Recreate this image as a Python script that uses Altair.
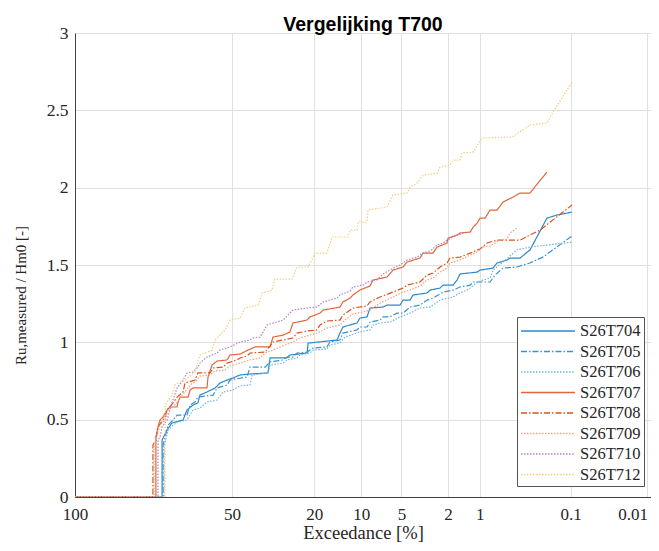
import numpy as np
import pandas as pd
import altair as alt

# Exceedance [%] and normalised run-up values
T704_p = [100, 80.8, 80.8, 78.8, 76.8, 72, 70.3, 67.6, 65.4, 64.5, 61.3, 57.6, 55.4, 52.2, 49.6, 46.5, 42.3, 35.1, 34.3, 28.3, 27.3, 22, 21.7, 14.5, 13.9, 13.3, 10.7, 10.2, 9.1, 8.66, 6.95, 6.48, 5.13, 4.86, 4.26, 4.03, 3.07, 2.89, 2.36, 2.22, 1.8, 1.65, 1.55, 1.06, 0.994, 0.736, 0.669, 0.526, 0.489, 0.382, 0.297, 0.191, 0.146, 0.0964]
T704_y = [0, 0, 0.368, 0.433, 0.478, 0.498, 0.562, 0.595, 0.608, 0.659, 0.679, 0.705, 0.737, 0.756, 0.769, 0.789, 0.795, 0.802, 0.899, 0.899, 0.918, 0.931, 0.995, 1.015, 1.060, 1.099, 1.125, 1.157, 1.164, 1.222, 1.228, 1.241, 1.241, 1.273, 1.273, 1.306, 1.319, 1.338, 1.351, 1.370, 1.370, 1.403, 1.442, 1.454, 1.467, 1.480, 1.513, 1.532, 1.545, 1.545, 1.597, 1.803, 1.823, 1.842]

T705_p = [100, 80.4, 80.4, 78.4, 76.3, 74.6, 70.3, 68.9, 66.7, 65.4, 58.5, 56.7, 52.2, 50.9, 43.5, 42.3, 36.2, 34.3, 29.6, 28.3, 26.3, 25, 22, 20.3, 16.8, 16.1, 13.9, 13.3, 10.7, 10.2, 9.1, 8.66, 7.31, 6.95, 6.14, 5.42, 4.86, 4.26, 3.52, 3.07, 2.72, 2.22, 1.8, 1.55, 1.24, 1.16, 0.789, 0.702, 0.58, 0.412, 0.297, 0.212, 0.0964]
T705_y = [0, 0, 0.336, 0.465, 0.498, 0.530, 0.530, 0.595, 0.614, 0.646, 0.659, 0.705, 0.724, 0.756, 0.776, 0.840, 0.840, 0.873, 0.886, 0.905, 0.905, 0.931, 0.937, 0.963, 0.970, 1.002, 1.015, 1.060, 1.080, 1.099, 1.099, 1.131, 1.144, 1.164, 1.164, 1.189, 1.189, 1.228, 1.241, 1.273, 1.286, 1.325, 1.338, 1.358, 1.370, 1.390, 1.390, 1.435, 1.480, 1.487, 1.513, 1.551, 1.687]

T706_p = [100, 80, 80, 78.4, 74.6, 70.3, 67.6, 64.5, 61.3, 56.7, 54, 49.6, 46.5, 42.3, 41.4, 35.1, 34.3, 29.6, 28.3, 25, 24.1, 21.2, 20.3, 16.8, 16.1, 13.9, 12.9, 10.7, 10.2, 8.66, 8.24, 7.31, 6.14, 5.13, 4.26, 3.52, 2.89, 2.36, 1.8, 1.55, 1.33, 1.24, 1.06, 0.789, 0.736, 0.58, 0.412, 0.297, 0.0964]
T706_y = [0, 0, 0.323, 0.433, 0.485, 0.498, 0.562, 0.575, 0.614, 0.627, 0.679, 0.692, 0.718, 0.724, 0.789, 0.802, 0.853, 0.866, 0.886, 0.899, 0.918, 0.931, 0.950, 0.957, 0.983, 0.996, 1.034, 1.060, 1.067, 1.080, 1.112, 1.125, 1.131, 1.164, 1.189, 1.222, 1.228, 1.273, 1.293, 1.319, 1.338, 1.351, 1.390, 1.416, 1.467, 1.519, 1.597, 1.616, 1.648]

T707_p = [100, 83.2, 83.2, 82.4, 81.6, 80.4, 78.8, 77.6, 74.6, 74.2, 73.3, 69.8, 68.9, 67.6, 61.3, 60.8, 59, 56.7, 52.2, 50.9, 46.5, 43.1, 40.2, 34.3, 33.2, 29.6, 27.3, 26.3, 22, 21.2, 18.5, 17.7, 13.9, 13.3, 11.9, 11.4, 10.2, 8.66, 8.24, 6.48, 5.83, 4.86, 4.51, 3.52, 3.32, 2.72, 2.51, 2.04, 2, 1.65, 1.55, 1.24, 1.16, 1.06, 0.994, 0.886, 0.789, 0.669, 0.58, 0.455, 0.382, 0.297, 0.191]
T707_y = [0, 0, 0.388, 0.453, 0.498, 0.517, 0.562, 0.582, 0.582, 0.614, 0.646, 0.646, 0.692, 0.705, 0.705, 0.776, 0.853, 0.879, 0.886, 0.918, 0.924, 0.950, 0.970, 0.970, 1.034, 1.047, 1.067, 1.125, 1.144, 1.164, 1.189, 1.209, 1.228, 1.261, 1.286, 1.306, 1.338, 1.364, 1.403, 1.422, 1.467, 1.487, 1.519, 1.545, 1.577, 1.577, 1.616, 1.642, 1.674, 1.694, 1.707, 1.713, 1.745, 1.771, 1.803, 1.803, 1.855, 1.855, 1.907, 1.939, 1.965, 1.965, 2.101]

T708_p = [100, 84.3, 84.3, 83.2, 82.4, 79.6, 78.8, 76.3, 74.6, 72, 71.2, 66.7, 65.4, 59.9, 58.5, 54, 52.2, 47.8, 46.5, 43.5, 42.3, 36.2, 33.2, 26.3, 25, 22, 19.3, 18.5, 16.8, 13.9, 13.3, 11.4, 9.1, 8.66, 7.31, 5.83, 4.86, 4.51, 3.52, 3.07, 2.72, 2.36, 2.04, 1.92, 1.55, 1.24, 0.994, 0.846, 0.669, 0.382, 0.297, 0.229, 0.0964]
T708_y = [0, 0, 0.336, 0.368, 0.453, 0.517, 0.562, 0.608, 0.646, 0.679, 0.737, 0.756, 0.802, 0.802, 0.834, 0.840, 0.866, 0.886, 0.899, 0.911, 0.931, 0.937, 1.002, 1.028, 1.060, 1.073, 1.080, 1.112, 1.138, 1.144, 1.176, 1.222, 1.235, 1.261, 1.293, 1.325, 1.351, 1.370, 1.390, 1.435, 1.448, 1.487, 1.513, 1.545, 1.551, 1.577, 1.603, 1.642, 1.661, 1.661, 1.694, 1.726, 1.888]

T709_p = [100, 83.9, 83.9, 82.8, 81.6, 79.6, 78.4, 75.5, 73.3, 71.2, 68.9, 65.8, 64.5, 59.9, 57.6, 53.1, 50.9, 46.5, 42.3, 38.2, 36.2, 33.2, 28.9, 26.3, 24.1, 21.2, 19.3, 16.8, 13.9, 12.9, 11.4, 9.1, 8.66, 7.31, 5.83, 4.86, 4.26, 3.52, 3.07, 2.72, 2.36, 2.04, 1.92, 1.55, 1.24, 1.06, 0.928, 0.789, 0.623, 0.526, 0.489, 0.412]
T709_y = [0, 0, 0.323, 0.401, 0.465, 0.498, 0.562, 0.595, 0.640, 0.679, 0.724, 0.756, 0.782, 0.789, 0.815, 0.821, 0.847, 0.866, 0.886, 0.899, 0.931, 0.950, 0.983, 1.002, 1.028, 1.047, 1.060, 1.092, 1.112, 1.144, 1.183, 1.202, 1.209, 1.254, 1.293, 1.325, 1.338, 1.364, 1.403, 1.416, 1.454, 1.480, 1.513, 1.532, 1.564, 1.584, 1.616, 1.623, 1.661, 1.668, 1.707, 1.739]

T710_p = [100, 82.4, 82.4, 81.6, 80.8, 78.8, 76.8, 74.6, 72, 70.3, 67.6, 65.4, 64.5, 61.3, 56.7, 55.4, 50.9, 46.5, 42.3, 41, 38.2, 35.5, 29.6, 26.3, 22, 19.3, 17.7, 16.1, 14.5, 13.9, 11.9, 11.4, 9.71, 9.1, 7.7, 6.95, 5.83, 5.13, 4.51, 3.73, 3.32, 2.89, 2.51, 2.22, 2.04, 1.8, 1.45]
T710_y = [0, 0, 0.368, 0.388, 0.453, 0.498, 0.608, 0.705, 0.756, 0.802, 0.808, 0.840, 0.866, 0.905, 0.931, 0.950, 0.970, 1.002, 1.015, 1.028, 1.034, 1.112, 1.144, 1.209, 1.222, 1.228, 1.261, 1.273, 1.286, 1.306, 1.332, 1.358, 1.370, 1.390, 1.403, 1.442, 1.480, 1.500, 1.532, 1.551, 1.577, 1.590, 1.629, 1.642, 1.661, 1.681, 1.707]

T712_p = [100, 79.6, 79.6, 76.8, 75.5, 71.2, 66.7, 64.5, 59.0, 57.6, 53.1, 50.9, 46.5, 44.4, 39.0, 37.4, 33.6, 32.5, 26.6, 25.0, 21.7, 19.8, 16.8, 15.6, 12.3, 11.9, 10.7, 10.5, 9.1, 8.95, 6.48, 5.83, 4.51, 4.26, 3.73, 3.32, 2.51, 2.36, 1.92, 1.8, 1.55, 1.48, 1.16, 0.949, 0.466, 0.297, 0.191, 0.162, 0.0964]
T712_y = [0, 0, 0.595, 0.659, 0.724, 0.756, 0.808, 0.918, 0.95, 1.015, 1.08, 1.144, 1.157, 1.222, 1.241, 1.319, 1.338, 1.409, 1.409, 1.487, 1.487, 1.577, 1.577, 1.681, 1.681, 1.726, 1.726, 1.778, 1.778, 1.855, 1.875, 1.952, 1.965, 2.004, 2.03, 2.081, 2.094, 2.133, 2.146, 2.178, 2.178, 2.224, 2.23, 2.321, 2.327, 2.405, 2.418, 2.489, 2.683]

names = ["S26T704", "S26T705", "S26T706", "S26T707", "S26T708", "S26T709", "S26T710", "S26T712"]
series_p = [T704_p, T705_p, T706_p, T707_p, T708_p, T709_p, T710_p, T712_p]
series_y = [T704_y, T705_y, T706_y, T707_y, T708_y, T709_y, T710_y, T712_y]

colors = ["#2B88CC", "#3A92D2", "#72B4E3", "#E0673A", "#D95319", "#EFA184", "#B482C8", "#F3CF7C"]
dashes = [[1, 0], [6, 2, 1.5, 2], [1.5, 1.5], [1, 0], [6, 2, 1.5, 2], [1.5, 1.5], [1.5, 1.5], [1.5, 1.5]]

rows = []
for name, ps, ys in zip(names, series_p, series_y):
    for i, (p, y) in enumerate(zip(ps, ys)):
        rows.append({"series": name, "p": p, "y": y, "i": i})
df = pd.DataFrame(rows)

# Rayleigh exceedance axis: position = sqrt(-ln(P))
tick_labels = [100, 50, 20, 10, 5, 2, 1, 0.1, 0.01]
tick_pos = [float(np.sqrt(-np.log(t / 100))) for t in tick_labels]
y_ticks = [0, 0.5, 1, 1.5, 2, 2.5, 3]

serif = "Liberation Serif"
ink = "#262626"
grid = "#e0e0e0"

legend = alt.Legend(title=None, orient="none", legendX=442, legendY=284,
                    fillColor="white", strokeColor="#555555", padding=3,
                    labelFont=serif, labelFontSize=16.5, labelColor=ink,
                    symbolType="M-1,0H4.4", symbolSize=400, symbolStrokeWidth=1.3,
                    rowPadding=0.5, labelOffset=38, labelLimit=200)

chart = alt.Chart(df).transform_calculate(
    r="sqrt(-log(datum.p/100))"
).mark_line(strokeWidth=1.2, clip=True).encode(
    x=alt.X("r:Q", scale=alt.Scale(domain=[0, 3.054], nice=False, zero=False),
            axis=alt.Axis(values=tick_pos,
                          labelExpr="format(100*exp(-datum.value*datum.value), '.2~r')",
                          labelAlign={"expr": "datum.value > 3 ? 'right' : 'center'"},
                          title="Exceedance [%]", ticks=False, tickSize=0, labelPadding=9,
                          titlePadding=1, labelFont=serif, labelFontSize=17, titleFont=serif,
                          titleFontSize=18.5, titleFontWeight="normal", labelColor=ink,
                          titleColor=ink, domainColor="#404040", gridColor=grid)),
    y=alt.Y("y:Q", scale=alt.Scale(domain=[0, 3], nice=False),
            axis=alt.Axis(values=y_ticks, format="~g", title="Ru,measured / Hm0  [-]",
                          ticks=False, tickSize=0, labelPadding=7, titleX=-47, titleY=262,
                          labelFont=serif, labelFontSize=17.5, titleFont=serif, titleFontSize=15,
                          titleFontWeight="normal", labelColor=ink, titleColor=ink,
                          domainColor="#404040", gridColor=grid)),
    color=alt.Color("series:N", scale=alt.Scale(domain=names, range=colors), legend=legend),
    strokeDash=alt.StrokeDash("series:N", scale=alt.Scale(domain=names, range=dashes), legend=legend),
    order="i:Q",
).properties(
    width=576, height=464,
    padding={"left": 67, "top": 25, "right": 0, "bottom": 46},
    autosize=alt.AutoSizeParams(type="none"),
    title=alt.TitleParams("Vergelijking T700", font="Liberation Sans", fontSize=19.5,
                          fontWeight="bold", color="black", offset=3, dy=14, anchor="middle",
                          frame="group"),
).configure_view(stroke=None)

chart.save("out.html", embed_options={"renderer": "svg", "actions": False})
